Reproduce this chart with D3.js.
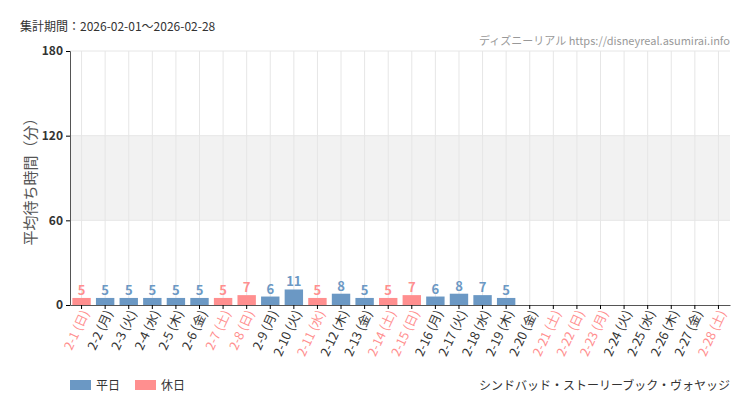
<!DOCTYPE html><html><head><meta charset="utf-8"><script src="https://cdn.jsdelivr.net/npm/d3@7"></script>
<style>body{margin:0;background:#fff}text{font-family:"Noto Sans CJK JP","Noto Sans",sans-serif}</style></head><body><svg id="c" width="750" height="410"></svg><script>
const dates=["2-1","2-2","2-3","2-4","2-5","2-6","2-7","2-8","2-9","2-10","2-11","2-12","2-13","2-14","2-15","2-16","2-17","2-18","2-19","2-20","2-21","2-22","2-23","2-24","2-25","2-26","2-27","2-28"];
const dows=["日","月","火","水","木","金","土","日","月","火","水","木","金","土","日","月","火","水","木","金","土","日","月","火","水","木","金","土"];
const holiday=[1,0,0,0,0,0,1,1,0,0,1,0,0,1,1,0,0,0,0,0,1,1,1,0,0,0,0,1];
const values=[5,5,5,5,5,5,5,7,6,11,5,8,5,5,7,6,8,7,5,null,null,null,null,null,null,null,null,null];
const yTicks=[0,60,120,180];
const svg=d3.select("#c");
const m={l:70,r:730,t:51,b:305};
const x=d3.scaleBand().domain(dates).range([m.l,m.r]).paddingInner(0.22).paddingOuter(0.1);
const y=d3.scaleLinear().domain([0,180]).range([m.b,m.t]);
const blue="#6b98c4",red="#ff8f8f";
svg.append("rect").attr("x",m.l).attr("width",m.r-m.l).attr("y",y(120)).attr("height",y(60)-y(120)).attr("fill","#f2f2f2");
svg.append("g").selectAll("line").data(dates).join("line").attr("x1",d=>x(d)+x.bandwidth()/2).attr("x2",d=>x(d)+x.bandwidth()/2).attr("y1",m.t).attr("y2",m.b).attr("stroke","#e6e6e6");
svg.append("g").selectAll("line").data(yTicks.slice(1)).join("line").attr("x1",m.l).attr("x2",m.r).attr("y1",d=>y(d)).attr("y2",d=>y(d)).attr("stroke","#e6e6e6");
const bars=dates.map((d,i)=>({d,v:values[i],h:holiday[i]})).filter(o=>o.v!=null);
svg.append("g").selectAll("rect").data(bars).join("rect").attr("x",o=>x(o.d)).attr("width",x.bandwidth()).attr("y",o=>y(o.v)).attr("height",o=>y(0)-y(o.v)).attr("fill",o=>o.h?red:blue);
svg.append("g").selectAll("text").data(bars).join("text").attr("x",o=>x(o.d)+x.bandwidth()/2).attr("y",o=>y(o.v)-3).attr("text-anchor","middle").attr("font-size",13).attr("font-weight","bold").attr("font-family","'DejaVu Sans Condensed',sans-serif").attr("fill",o=>o.h?red:blue).text(o=>o.v);
const ya=svg.append("g").attr("transform",`translate(${m.l},0)`).call(d3.axisLeft(y).tickValues(yTicks).tickSize(4));
ya.select(".domain").attr("stroke","#555");ya.selectAll("text").attr("font-size",12).attr("font-weight","bold").attr("fill","#333").attr("font-family","'DejaVu Sans Condensed',sans-serif");
const xa=svg.append("g").attr("transform",`translate(0,${m.b})`).call(d3.axisBottom(x).tickSize(4).tickSizeOuter(0));
xa.select(".domain").attr("stroke","#555");
xa.selectAll("text").each(function(d,i){d3.select(this).text(`${d} (${dows[i]})`).attr("fill",holiday[i]?red:"#333").attr("font-size",12.5).attr("text-anchor","end").attr("transform","translate(4,6) rotate(-65)").attr("dx",0).attr("dy","0.35em").attr("y",0).attr("x",0);});
svg.append("text").attr("x",20).attr("y",31).attr("font-size",12).attr("fill","#333").text("集計期間：2026-02-01〜2026-02-28");
svg.append("text").attr("x",730).attr("y",45).attr("text-anchor","end").attr("font-size",11).attr("fill","#999").text("ディズニーリアル https://disneyreal.asumirai.info");
svg.append("text").attr("transform","translate(36,178) rotate(-90)").attr("text-anchor","middle").attr("font-size",15).attr("fill","#555").text("平均待ち時間（分）");
svg.append("rect").attr("x",70).attr("y",380).attr("width",21).attr("height",10).attr("fill",blue);
svg.append("text").attr("x",96).attr("y",390).attr("font-size",12).attr("fill","#333").text("平日");
svg.append("rect").attr("x",135).attr("y",380).attr("width",21).attr("height",10).attr("fill",red);
svg.append("text").attr("x",161).attr("y",390).attr("font-size",12).attr("fill","#333").text("休日");
svg.append("text").attr("x",730).attr("y",390).attr("text-anchor","end").attr("font-size",12).attr("fill","#333").text("シンドバッド・ストーリーブック・ヴォヤッジ");
</script></body></html>
